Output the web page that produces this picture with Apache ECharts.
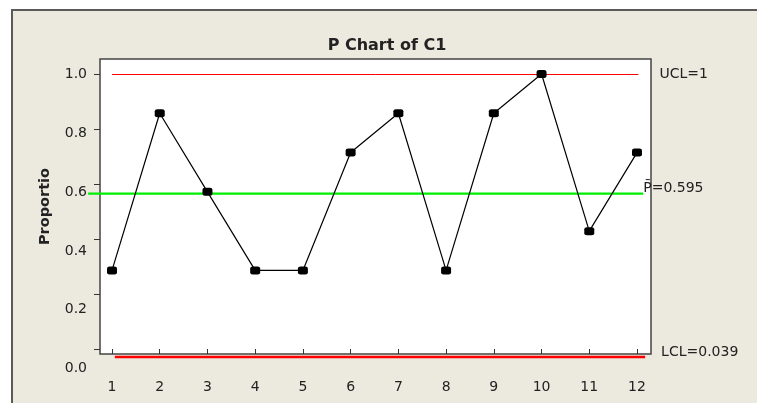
<!DOCTYPE html>
<html>
<head>
<meta charset="utf-8">
<script src="https://cdn.jsdelivr.net/npm/echarts@6/dist/echarts.min.js"></script>
<style>
  html, body { margin: 0; padding: 0; background: #ffffff; }
  #chart { width: 757px; height: 403px; }
</style>
</head>
<body>
<div id="chart"></div>
<script>
// Subgroup numbers and the proportion defective in each subgroup (n = 7)
const samples = [1, 2, 3, 4, 5, 6, 7, 8, 9, 10, 11, 12];
const proportions = [2/7, 6/7, 4/7, 2/7, 2/7, 5/7, 6/7, 2/7, 6/7, 7/7, 3/7, 5/7];

// Control limits
const ucl = 1;
const centerLine = 0.595;
const lcl = 0.039;

// Axis tick values
const yTicks = [0, 0.2, 0.4, 0.6, 0.8, 1.0];
const xTicks = samples;

const FONT = '"DejaVu Sans", Verdana, sans-serif';
const INK = '#222222';

// Plot frame in pixels
const plotLeft = 100, plotRight = 651, plotTop = 59, plotBottom = 354;
const W = 757, H = 403;

// Sample axis range: sample 1 sits 12px in, sample 12 sits 14px from the right edge
const xStep = (637 - 112) / 11;
const xMin = 1 - (112 - plotLeft) / xStep;
const xMax = 12 + (plotRight - 637) / xStep;

// Wider layer for the limit lines, so the centre line can run past the frame
const limLeft = 80;
const xMinLim = 1 - (112 - limLeft) / xStep;

// Proportion axis for the points and tick marks
const ptZero = 349, ptOne = 74;
const ptScale = ptZero - ptOne;
const yMinPts = -(plotBottom - ptZero) / ptScale;
const yMaxPts = (ptZero - plotTop) / ptScale;

// Axis carrying the tick labels and the control limit lines
const limZero = 368.5, limOne = 74.5;
const limScale = limZero - limOne;
const limBottom = 380;
const yMinLim = -(limBottom - limZero) / limScale;
const yMaxLim = (limZero - plotTop) / limScale;

const chart = echarts.init(document.getElementById('chart'), null, { renderer: 'canvas' });

function limitSeries(name, value, from, to, color, width, text, labelDist, labelDy) {
  return {
    name: name,
    type: 'line',
    xAxisIndex: 1,
    yAxisIndex: 1,
    data: [[from, value], [to, value]],
    symbol: 'none',
    clip: false,
    silent: true,
    z: 2,
    lineStyle: { color: color, width: width },
    endLabel: {
      show: true,
      formatter: text,
      color: INK,
      fontFamily: FONT,
      fontSize: 14,
      distance: labelDist,
      offset: [0, labelDy]
    }
  };
}

const option = {
  backgroundColor: '#ffffff',
  animation: false,
  graphic: [{
    type: 'rect',
    z: -10,
    silent: true,
    shape: { x: 12, y: 10, width: W + 10, height: H + 10 },
    style: { fill: '#ECE9DF', stroke: '#5A5A5A', lineWidth: 2 }
  }],
  title: {
    text: 'P Chart of C1',
    left: 382,
    top: 33,
    textAlign: 'center',
    textStyle: { fontFamily: FONT, fontWeight: 'bold', fontSize: 16, color: INK }
  },
  grid: [
    {
      left: plotLeft, right: W - plotRight, top: plotTop, bottom: H - plotBottom,
      show: true, backgroundColor: '#ffffff', borderColor: '#444444', borderWidth: 1.5
    },
    {
      left: limLeft, right: W - plotRight, top: plotTop, bottom: H - limBottom,
      show: false
    }
  ],
  xAxis: [
    {
      type: 'value', gridIndex: 0, min: xMin, max: xMax,
      axisLine: { show: false },
      axisTick: { show: true, customValues: xTicks, length: 5, inside: false,
                  lineStyle: { color: '#333333', width: 1 } },
      axisLabel: { customValues: xTicks, margin: 26, color: INK, fontFamily: FONT, fontSize: 14 },
      splitLine: { show: false }
    },
    {
      type: 'value', gridIndex: 1, min: xMinLim, max: xMax, show: false
    }
  ],
  yAxis: [
    {
      type: 'value', gridIndex: 0, min: yMinPts, max: yMaxPts,
      name: 'Proportio', nameLocation: 'middle', nameRotate: 90, nameGap: 47,
      nameTextStyle: { fontFamily: FONT, fontWeight: 'bold', fontSize: 14.5, color: INK },
      axisLine: { show: false },
      axisTick: { show: true, customValues: yTicks, length: 6,
                  lineStyle: { color: '#333333', width: 1 } },
      axisLabel: { show: false },
      splitLine: { show: false }
    },
    {
      type: 'value', gridIndex: 1, min: yMinLim, max: yMaxLim,
      offset: limLeft - plotLeft,
      axisLine: { show: false },
      axisTick: { show: false },
      axisLabel: {
        customValues: yTicks, margin: 13, color: INK, fontFamily: FONT, fontSize: 14,
        formatter: v => v.toFixed(1)
      },
      splitLine: { show: false }
    }
  ],
  series: [
    limitSeries('UCL', ucl, 1, 12.03, '#FF0000', 1, 'UCL=1', 21, 0),
    limitSeries('P', centerLine, 0.5, 12.13, '#00EE00', 2.2, 'P\u0304=0.595', 0, -5),
    limitSeries('LCL', lcl, 1.06, 12.17, '#FF0000', 2.5, 'LCL=0.039', 16, -5),
    {
      name: 'Proportion',
      type: 'line',
      xAxisIndex: 0,
      yAxisIndex: 0,
      data: samples.map((s, i) => [s, proportions[i]]),
      symbol: 'roundRect',
      symbolSize: [10, 8],
      z: 5,
      itemStyle: { color: '#000000' },
      lineStyle: { color: '#000000', width: 1.2 }
    }
  ]
};

chart.setOption(option);
</script>
</body>
</html>
